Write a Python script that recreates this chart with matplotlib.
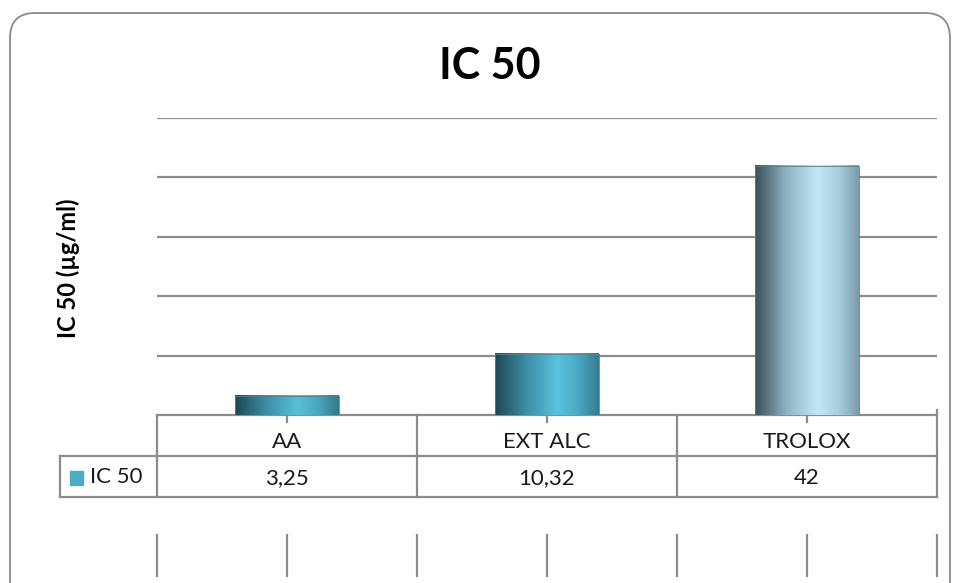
import numpy as np
import matplotlib
matplotlib.use("Agg")
import matplotlib.pyplot as plt
from matplotlib.patches import FancyBboxPatch, Rectangle
from matplotlib.colors import LinearSegmentedColormap

plt.rcParams['font.family'] = ['Lato', 'DejaVu Sans']

categories = ["AA", "EXT ALC", "TROLOX"]
values = [3.25, 10.32, 42]
value_labels = ["3,25", "10,32", "42"]
series_name = "IC 50"
title = "IC 50"
ylabel = "IC 50 (µg/ml)"
grid_values = [10, 20, 30, 40, 50]

W, H = 958, 583
fig = plt.figure(figsize=(W / 100, H / 100), dpi=100)

# overlay in pixel coordinates
ov = fig.add_axes([0, 0, 1, 1], zorder=0)
ov.set_xlim(0, W)
ov.set_ylim(H, 0)
ov.axis('off')

# main axes
L, R, T, B = 157, 937, 118, 415
ax = fig.add_axes([L / W, (H - B) / H, (R - L) / W, (B - T) / H], zorder=1)
ax.patch.set_alpha(0)
ax.set_xlim(-0.5, len(categories) - 0.5)
ax.set_ylim(0, 50)
for s in ax.spines.values():
    s.set_visible(False)
ax.set_xticks([])
ax.set_yticks([])
for g in grid_values:
    ax.axhline(g, color='#8c8c8c', lw=1.6, zorder=0)

cmaps = [
    ['#1d4754', '#3b8ea5', '#5bbfd9', '#4aa6bf', '#34788a'],
    ['#1d4754', '#3b8ea5', '#5bc2dd', '#4aa9c3', '#357d90'],
    ['#3a4f59', '#8fb3c2', '#c4e7f5', '#a9d0df', '#7b9ca9'],
]
bw = 0.4
for i, v in enumerate(values):
    cm = LinearSegmentedColormap.from_list(f'c{i}', list(zip([0, 0.3, 0.6, 0.8, 1.0], cmaps[i])))
    grad = np.linspace(0, 1, 256).reshape(1, -1)
    ax.imshow(grad, cmap=cm, aspect='auto', extent=[i - bw / 2, i + bw / 2, 0, v], zorder=2)
    ax.add_patch(Rectangle((i - bw / 2, 0), bw, v, fill=False, ec='#5a7f8a', lw=0.6, zorder=3))
ax.set_xlim(-0.5, len(categories) - 0.5)
ax.set_ylim(0, 50)

# border
ov.add_patch(FancyBboxPatch((10, 13), 940, 600, boxstyle="round,pad=0,rounding_size=25",
                            fill=False, ec='#8a8a8a', lw=1.3))

# title and y label
ov.text(490, 66, title, ha='center', va='center', fontsize=31, fontweight='bold', color='black')
ov.text(68, 268, ylabel, ha='center', va='center', rotation=90, fontsize=17, fontweight='bold', color='black')

# table
lc = '#8c8c8c'
lw = 1.6
colw = (R - L) / len(categories)
r0, r1, r2 = 415, 456, 497
ov.plot([L, R], [r0, r0], color=lc, lw=lw)
ov.plot([60, R], [r1, r1], color=lc, lw=lw)
ov.plot([60, R], [r2, r2], color=lc, lw=lw)
ov.plot([60, 60], [r1, r2], color=lc, lw=lw)
for k in range(len(categories) + 1):
    x = L + k * colw
    top = 410 if k == len(categories) else r0
    ov.plot([x, x], [top, r2], color=lc, lw=lw)
for k in range(len(categories)):
    xc = L + (k + 0.5) * colw
    ov.plot([xc, xc], [410, 422], color=lc, lw=lw)
    ov.text(xc, 442, categories[k], ha='center', va='center', fontsize=16, color='#1a1a1a')
    ov.text(xc, 478, value_labels[k], ha='center', va='center', fontsize=16, color='#1a1a1a')
ov.add_patch(Rectangle((70, 471), 13, 14, color='#4bacc6'))
ov.text(90, 477, series_name, ha='left', va='center', fontsize=16, color='#1a1a1a')

# lower tick artifacts
for k in range(2 * len(categories) + 1):
    x = L + k * colw / 2
    ov.plot([x, x], [535, 576], color=lc, lw=lw)

fig.savefig('out.png', dpi=100)
